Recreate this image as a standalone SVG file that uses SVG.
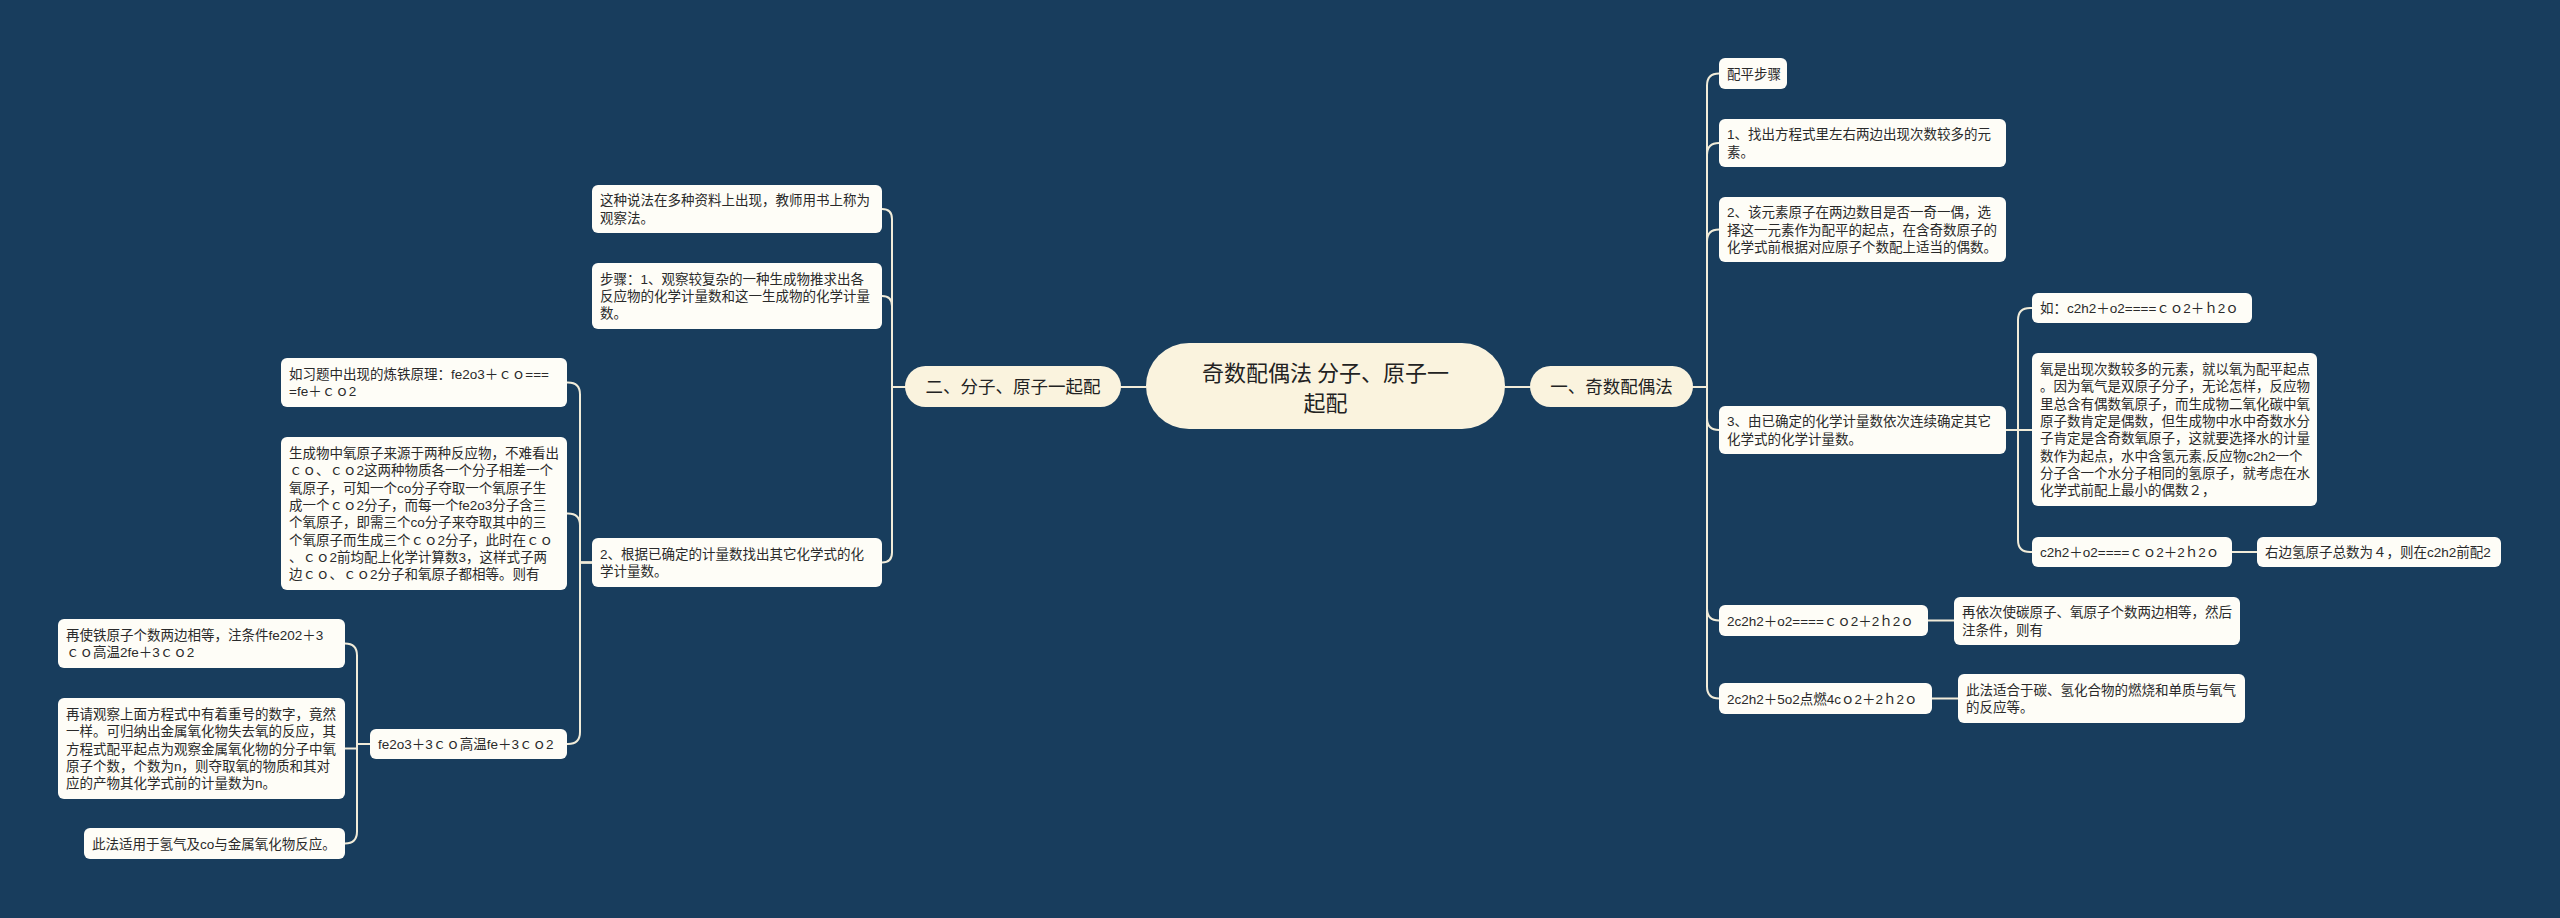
<svg xmlns="http://www.w3.org/2000/svg" width="2560" height="918" viewBox="0 0 2560 918">
<style>
.bg{fill:#183D5D}
.n{fill:#FEFDF7}
.m{fill:#FAF3DE}
.c{fill:none;stroke:#F1ECD9;stroke-width:2;stroke-linecap:round;stroke-linejoin:round}
.t{font-family:"Liberation Sans","Noto Sans CJK SC",sans-serif;font-size:13.5px;fill:#2A2A2A}
.tm{font-family:"Noto Sans CJK SC",sans-serif;font-size:17.5px;fill:#222;text-anchor:middle}
.tr{font-family:"Noto Sans CJK SC",sans-serif;font-size:22px;fill:#222;text-anchor:middle}
</style>
<rect class="bg" x="0" y="0" width="2560" height="918"/>
<g id="connectors">
<path class="c" d="M1146,387 H1121"/>
<path class="c" d="M1505,387 H1530"/>
<path class="c" d="M1693,387 H1707 V85.5 Q1707,73.5 1719,73.5"/>
<path class="c" d="M1693,387 H1707 V155 Q1707,143 1719,143"/>
<path class="c" d="M1693,387 H1707 V241.5 Q1707,229.5 1719,229.5"/>
<path class="c" d="M1693,387 H1707 V418 Q1707,430 1719,430"/>
<path class="c" d="M1693,387 H1707 V608.5 Q1707,620.5 1719,620.5"/>
<path class="c" d="M1693,387 H1707 V686.5 Q1707,698.5 1719,698.5"/>
<path class="c" d="M2006,430 H2018 V320 Q2018,308 2030,308 H2032"/>
<path class="c" d="M2006,430 H2032"/>
<path class="c" d="M2006,430 H2018 V540 Q2018,552 2030,552 H2032"/>
<path class="c" d="M2232,552 H2257"/>
<path class="c" d="M1928,620.5 H1954"/>
<path class="c" d="M1932,698.5 H1958"/>
<path class="c" d="M905,387 H892 V219 Q892,209 882,209"/>
<path class="c" d="M905,387 H892 V306 Q892,296 882,296"/>
<path class="c" d="M905,387 H892 V552.5 Q892,562.5 882,562.5"/>
<path class="c" d="M592,562.5 H580 V394.5 Q580,382.5 568,382.5 H567"/>
<path class="c" d="M592,562.5 H580 V525.5 Q580,513.5 568,513.5 H567"/>
<path class="c" d="M592,562.5 H580 V732 Q580,744 568,744 H567"/>
<path class="c" d="M370,744 H357 V655.5 Q357,643.5 345,643.5"/>
<path class="c" d="M370,744 H357 V748.5 H345"/>
<path class="c" d="M370,744 H357 V831.5 Q357,843.5 345,843.5"/>
</g>
<g id="root">
<rect class="m" x="1146" y="343" width="359" height="86" rx="43"/>
<text class="tr" x="1325.5" y="381.4">奇数配偶法 分子、原子一</text>
<text class="tr" x="1325.5" y="411.4">起配</text>
</g>
<g id="main-right">
<rect class="m" x="1530" y="366" width="163" height="41" rx="20.5"/>
<text class="tm" x="1611.5" y="393">一、奇数配偶法</text>
</g>
<g id="main-left">
<rect class="m" x="905" y="366" width="216" height="41" rx="20.5"/>
<text class="tm" x="1013" y="393">二、分子、原子一起配</text>
</g>
<g id="r0">
<rect class="n" x="1719" y="58" width="68" height="31" rx="6"/>
<text class="t" x="1727" y="78.5">配平步骤</text>
</g>
<g id="r1">
<rect class="n" x="1719" y="119" width="287" height="48" rx="6"/>
<text class="t" x="1727" y="139.4">1、找出方程式里左右两边出现次数较多的元<tspan x="1727" dy="17.3">素。</tspan></text>
</g>
<g id="r2">
<rect class="n" x="1719" y="197" width="287" height="65" rx="6"/>
<text class="t" x="1727" y="217.2">2、该元素原子在两边数目是否一奇一偶，选<tspan x="1727" dy="17.3">择这一元素作为配平的起点，在含奇数原子的</tspan><tspan x="1727" dy="17.3">化学式前根据对应原子个数配上适当的偶数。</tspan></text>
</g>
<g id="r3">
<rect class="n" x="1719" y="406" width="287" height="48" rx="6"/>
<text class="t" x="1727" y="426.4">3、由已确定的化学计量数依次连续确定其它<tspan x="1727" dy="17.3">化学式的化学计量数。</tspan></text>
</g>
<g id="r3a">
<rect class="n" x="2032" y="293" width="220" height="30" rx="6"/>
<text class="t" x="2040" y="313">如：c2h2＋o2====ｃｏ2＋ｈ2ｏ</text>
</g>
<g id="r3b">
<rect class="n" x="2032" y="353" width="285" height="153" rx="6"/>
<text class="t" x="2040" y="374">氧是出现次数较多的元素，就以氧为配平起点<tspan x="2040" dy="17.3">。因为氧气是双原子分子，无论怎样，反应物</tspan><tspan x="2040" dy="17.3">里总含有偶数氧原子，而生成物二氧化碳中氧</tspan><tspan x="2040" dy="17.3">原子数肯定是偶数，但生成物中水中奇数水分</tspan><tspan x="2040" dy="17.3">子肯定是含奇数氧原子，这就要选择水的计量</tspan><tspan x="2040" dy="17.3">数作为起点，水中含氢元素,反应物c2h2一个</tspan><tspan x="2040" dy="17.3">分子含一个水分子相同的氢原子，就考虑在水</tspan><tspan x="2040" dy="17.3">化学式前配上最小的偶数２，</tspan></text>
</g>
<g id="r3c">
<rect class="n" x="2032" y="537" width="200" height="30" rx="6"/>
<text class="t" x="2040" y="557">c2h2＋o2====ｃｏ2＋2ｈ2ｏ</text>
</g>
<g id="r3c1">
<rect class="n" x="2257" y="537" width="244" height="30" rx="6"/>
<text class="t" x="2265" y="557">右边氢原子总数为４，则在c2h2前配2</text>
</g>
<g id="r4">
<rect class="n" x="1719" y="605" width="209" height="31" rx="6"/>
<text class="t" x="1727" y="625.5">2c2h2＋o2====ｃｏ2＋2ｈ2ｏ</text>
</g>
<g id="r4a">
<rect class="n" x="1954" y="597" width="286" height="48" rx="6"/>
<text class="t" x="1962" y="617.4">再依次使碳原子、氧原子个数两边相等，然后<tspan x="1962" dy="17.3">注条件，则有</tspan></text>
</g>
<g id="r5">
<rect class="n" x="1719" y="683" width="213" height="31" rx="6"/>
<text class="t" x="1727" y="703.5">2c2h2＋5o2点燃4cｏ2＋2ｈ2ｏ</text>
</g>
<g id="r5a">
<rect class="n" x="1958" y="674" width="287" height="49" rx="6"/>
<text class="t" x="1966" y="694.9">此法适合于碳、氢化合物的燃烧和单质与氧气<tspan x="1966" dy="17.3">的反应等。</tspan></text>
</g>
<g id="l0">
<rect class="n" x="592" y="185" width="290" height="48" rx="6"/>
<text class="t" x="600" y="205.4">这种说法在多种资料上出现，教师用书上称为<tspan x="600" dy="17.3">观察法。</tspan></text>
</g>
<g id="l1">
<rect class="n" x="592" y="263" width="290" height="66" rx="6"/>
<text class="t" x="600" y="283.7">步骤：1、观察较复杂的一种生成物推求出各<tspan x="600" dy="17.3">反应物的化学计量数和这一生成物的化学计量</tspan><tspan x="600" dy="17.3">数。</tspan></text>
</g>
<g id="l2">
<rect class="n" x="592" y="538" width="290" height="49" rx="6"/>
<text class="t" x="600" y="558.9">2、根据已确定的计量数找出其它化学式的化<tspan x="600" dy="17.3">学计量数。</tspan></text>
</g>
<g id="l2a">
<rect class="n" x="281" y="358" width="286" height="49" rx="6"/>
<text class="t" x="289" y="378.9">如习题中出现的炼铁原理：fe2o3＋ｃｏ===<tspan x="289" dy="17.3">=fe＋ｃｏ2</tspan></text>
</g>
<g id="l2b">
<rect class="n" x="281" y="437" width="286" height="153" rx="6"/>
<text class="t" x="289" y="458">生成物中氧原子来源于两种反应物，不难看出<tspan x="289" dy="17.3">ｃｏ、ｃｏ2这两种物质各一个分子相差一个</tspan><tspan x="289" dy="17.3">氧原子，可知一个co分子夺取一个氧原子生</tspan><tspan x="289" dy="17.3">成一个ｃｏ2分子，而每一个fe2o3分子含三</tspan><tspan x="289" dy="17.3">个氧原子，即需三个co分子来夺取其中的三</tspan><tspan x="289" dy="17.3">个氧原子而生成三个ｃｏ2分子，此时在ｃｏ</tspan><tspan x="289" dy="17.3">、ｃｏ2前均配上化学计算数3，这样式子两</tspan><tspan x="289" dy="17.3">边ｃｏ、ｃｏ2分子和氧原子都相等。则有</tspan></text>
</g>
<g id="l2c">
<rect class="n" x="370" y="729" width="197" height="30" rx="6"/>
<text class="t" x="378" y="749">fe2o3＋3ｃｏ高温fe＋3ｃｏ2</text>
</g>
<g id="l2c1">
<rect class="n" x="58" y="619" width="287" height="49" rx="6"/>
<text class="t" x="66" y="639.9">再使铁原子个数两边相等，注条件fe202＋3<tspan x="66" dy="17.3">ｃｏ高温2fe＋3ｃｏ2</tspan></text>
</g>
<g id="l2c2">
<rect class="n" x="58" y="698" width="287" height="101" rx="6"/>
<text class="t" x="66" y="718.9">再请观察上面方程式中有着重号的数字，竟然<tspan x="66" dy="17.3">一样。可归纳出金属氧化物失去氧的反应，其</tspan><tspan x="66" dy="17.3">方程式配平起点为观察金属氧化物的分子中氧</tspan><tspan x="66" dy="17.3">原子个数，个数为n，则夺取氧的物质和其对</tspan><tspan x="66" dy="17.3">应的产物其化学式前的计量数为n。</tspan></text>
</g>
<g id="l2c3">
<rect class="n" x="84" y="828" width="261" height="31" rx="6"/>
<text class="t" x="92" y="848.5">此法适用于氢气及co与金属氧化物反应。</text>
</g>
</svg>
